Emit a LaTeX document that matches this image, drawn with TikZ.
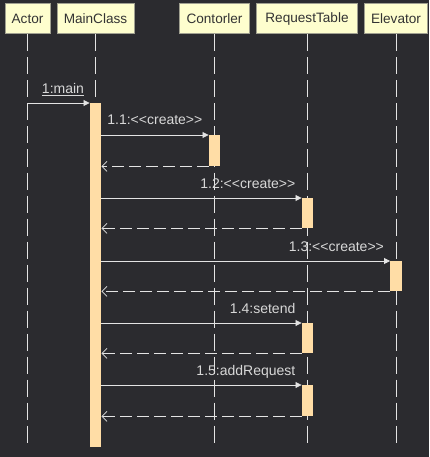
\documentclass[tikz,border=0pt]{standalone}
\usepackage{fontspec}
\setmainfont{Liberation Sans}
\usetikzlibrary{positioning,calc,arrows.meta}
\definecolor{bgdark}{HTML}{2B2B2F}
\definecolor{headfill}{HTML}{FEFECE}
\definecolor{headborder}{HTML}{A0A090}
\definecolor{actfill}{HTML}{FFDDA6}
\definecolor{linegray}{HTML}{E4E4E4}
\definecolor{textgray}{HTML}{D8D8D8}
\newcommand\dlt{<\kern0pt<}
\newcommand\dgt{>\kern0pt>}

\begin{document}
\begin{tikzpicture}[x=1pt,y=-1pt,
                    font=\fontsize{14}{16}\selectfont,
                    head node/.style={rectangle,fill=headfill,draw=headborder,line width=1pt,text=black!80,minimum height=30pt,inner xsep=3pt,font=\fontsize{13.6}{16}\selectfont},
                    act node/.style={rectangle,fill=actfill,minimum width=11.5pt,inner sep=0pt,anchor=north},
                    life line/.style={draw=linegray,line width=1pt,dash pattern=on 17pt off 6pt},
                    msg line/.style={draw=linegray,line width=0.8pt,-{Triangle[length=6pt,width=6pt]}},
                    ret line/.style={draw=linegray,line width=0.8pt,dash pattern=on 12pt off 5pt,-{Straight Barb[length=5pt,width=10pt]}},
                    msg label/.style={text=textgray,anchor=base east,inner sep=0pt}
                   ]
   \fill[bgdark] (0,0) rectangle (429,457);
   \useasboundingbox (0,0) rectangle (429,457);
   % participants
   \node[head node,minimum width=45pt]  (actor) at (27.5,19) {Actor};
   \node[head node,minimum width=77pt]  (main)  at (95.5,19) {MainClass};
   \node[head node,minimum width=70pt]  (con)   at (214.5,19) {Contorler};
   \node[head node,minimum width=101pt] (table) at (307,19) {RequestTable};
   \node[head node,minimum width=63pt]  (elev)  at (396,19) {Elevator};
   % lifelines
   \foreach \p in {actor,main,con,table,elev}{
     \coordinate (\p End) at (\p.south |- 0,447);
     \draw[life line] (\p.south) -- (\p End);
   }
   % activations
   \node[act node,minimum height=344pt] (actMain)  at (95.5,103) {};
   \node[act node,minimum height=31pt]  (actCon)   at (214.5,135) {};
   \node[act node,minimum height=30pt]  (actTabA)  at (307.5,198) {};
   \node[act node,minimum height=30pt]  (actElev)  at (396,261) {};
   \node[act node,minimum height=30pt]  (actTabB)  at (307.5,323) {};
   \node[act node,minimum height=31pt]  (actTabC)  at (307.5,385) {};
   % messages
   \draw[msg line] (actor |- actMain.north) -- (actMain.north west);
   \node[msg label,anchor=base] (lMain) at (63,94) {\underline{1:main}};
   \foreach \a/\t in {actCon/1.1:\dlt create\dgt,
                      actTabA/1.2:\dlt create\dgt,
                      actElev/1.3:\dlt create\dgt,
                      actTabB/1.4:setend,
                      actTabC/1.5:addRequest}{
     \draw[msg line] (\a.north west -| actMain.east) -- (\a.north west);
     \node[msg label] (l\a) at ($(\a.north west)+(-6,-10)$) {\t};
     \draw[ret line] (\a.south west) -- (\a.south west -| actMain.east);
   }
\end{tikzpicture}
\end{document}
